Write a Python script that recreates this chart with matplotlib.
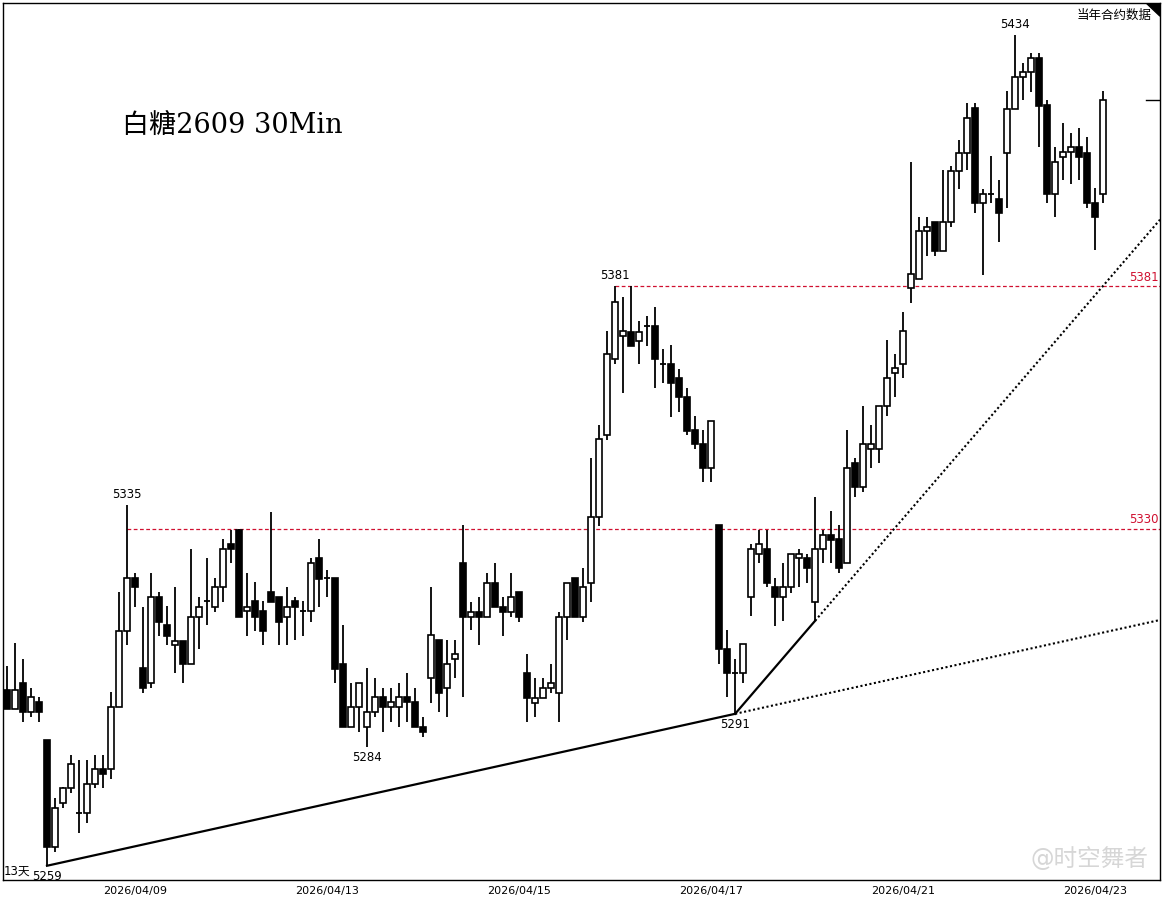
import matplotlib.pyplot as plt
import numpy as np

plt.rcParams['font.family'] = ['DejaVu Sans', 'Noto Sans CJK SC']

# 30-minute bars
opens = [5296, 5292, 5297.5, 5291.4, 5293.5, 5285.5, 5263, 5272.3, 5275.4, 5270.2,
         5270.2, 5276.3, 5279.4, 5279.4, 5292.5, 5308.5, 5319.6, 5300.7, 5297.5, 5315.6,
         5309.7, 5305.5, 5306.4, 5301.5, 5311.4, 5314.8, 5313.5, 5317.7, 5326.8, 5329.7,
         5312.7, 5314.8, 5312.7, 5316.7, 5315.6, 5311.4, 5314.8, 5312.7, 5312.7, 5323.8,
         5319.6, 5319.6, 5301.5, 5288.3, 5292.5, 5288.3, 5291.4, 5294.6, 5292.5, 5292.5,
         5294.6, 5293.5, 5288.3, 5298.6, 5306.6, 5296.5, 5302.6, 5322.8, 5311.4, 5312.5,
         5311.4, 5318.6, 5313.5, 5312.5, 5316.7, 5299.6, 5293.3, 5294.4, 5296.5, 5295.4,
         5311.4, 5319.6, 5311.4, 5318.6, 5332.5, 5349.7, 5365.7, 5370.6, 5371.4, 5369.5,
         5372.7, 5372.7, 5364.7, 5364.7, 5361.7, 5357.7, 5350.8, 5347.8, 5342.8, 5330.8,
         5304.7, 5299.6, 5299.6, 5315.6, 5324.7, 5325.7, 5317.7, 5315.6, 5317.7, 5323.8,
         5323.8, 5314.6, 5325.7, 5328.7, 5327.8, 5322.8, 5343.8, 5338.8, 5346.8, 5346.8,
         5355.8, 5362.8, 5364.7, 5380.7, 5382.6, 5392.7, 5394.6, 5388.5, 5394.6, 5405.3,
         5409.1, 5418.6, 5398.6, 5400.5, 5399.4, 5409.1, 5418.4, 5425.1, 5426.2, 5429.1,
         5419.2, 5400.5, 5408.3, 5409.3, 5410.4, 5409.1, 5398.6, 5400.5]
highs = [5301, 5306, 5302.6, 5296.5, 5294.6, 5285.5, 5273.3, 5275.5, 5282.4, 5281.3,
         5281.3, 5282.4, 5282.4, 5295.6, 5316.7, 5335, 5320.7, 5313.5, 5320.7, 5316.7,
         5313.7, 5317.7, 5306.4, 5325.7, 5315.6, 5323.8, 5319.6, 5327.8, 5329.7, 5330,
         5320.7, 5318.8, 5314.8, 5333.5, 5315.6, 5317.7, 5315.6, 5314.8, 5323.8, 5327.8,
         5321.3, 5319.6, 5309.7, 5297.5, 5297.5, 5300.7, 5298.6, 5296.5, 5296.5, 5297.5,
         5299.6, 5296.5, 5290.4, 5317.7, 5306.6, 5306.6, 5306.6, 5330.8, 5314.6, 5315.6,
         5320.7, 5322.8, 5315.6, 5320.7, 5316.7, 5303.6, 5298.6, 5298.6, 5301.5, 5312.5,
         5318.6, 5319.6, 5321.7, 5344.9, 5351.8, 5371.6, 5381, 5378.8, 5381, 5373.7,
         5374.8, 5376.7, 5367.8, 5368.7, 5363.6, 5359.6, 5353.7, 5350.8, 5352.7, 5330.8,
         5308.7, 5302.6, 5305.7, 5326.8, 5329.7, 5329.7, 5319.6, 5322.8, 5324.7, 5325.7,
         5324.7, 5336.7, 5329.7, 5333.7, 5330.8, 5350.8, 5344.9, 5355.8, 5351.8, 5355.8,
         5369.7, 5366.8, 5375.6, 5407.2, 5395.6, 5395.6, 5394.6, 5405.5, 5406.4, 5411.8,
         5419.6, 5419.6, 5401.5, 5408.5, 5403.4, 5422.2, 5434, 5428.1, 5430.2, 5430.2,
         5420.3, 5410.4, 5415.4, 5413.3, 5414.4, 5412.5, 5401.7, 5422.2]
lows = [5292, 5292, 5289.3, 5290.4, 5289.3, 5259, 5262, 5271.2, 5274.4, 5266,
        5268, 5275.4, 5275.4, 5277.3, 5292.5, 5305.5, 5313.5, 5295.4, 5296.5, 5307.4,
        5305.5, 5299.6, 5297.5, 5301.5, 5304.7, 5309.7, 5312.5, 5314.6, 5322.8, 5311.4,
        5307.4, 5308.5, 5305.5, 5314.6, 5305.5, 5305.5, 5306.6, 5307.4, 5310.4, 5313.5,
        5315.6, 5297.5, 5288.3, 5288.3, 5287.2, 5284, 5290.4, 5287.2, 5289.3, 5288.3,
        5289.3, 5288.3, 5286.2, 5293.3, 5291.4, 5290.4, 5298.6, 5294.6, 5308.7, 5305.5,
        5311.4, 5313.5, 5307.4, 5311.4, 5310.4, 5289.3, 5290.4, 5294.4, 5295.4, 5289.3,
        5306.6, 5311.4, 5310.4, 5314.6, 5330.6, 5348.7, 5364.7, 5358.6, 5368.5, 5364.7,
        5368.5, 5359.6, 5360.7, 5353.5, 5354.6, 5349.7, 5346.8, 5339.8, 5339.8, 5301.5,
        5294.6, 5291, 5297.5, 5311.6, 5322.8, 5317.7, 5309.5, 5310.6, 5316.5, 5317.7,
        5318.6, 5310.6, 5322.8, 5322.8, 5320.7, 5322.8, 5336.7, 5337.7, 5342.8, 5343.8,
        5353.7, 5357.7, 5361.7, 5377.5, 5382.6, 5387.4, 5387.4, 5388.5, 5393.5, 5401.5,
        5405.5, 5396.5, 5383.4, 5398.6, 5390.4, 5397.5, 5418.4, 5420.3, 5421.9, 5410.4,
        5398.6, 5395.6, 5403.4, 5402.6, 5403.4, 5397.5, 5388.7, 5398.6]
closes = [5292, 5296, 5291.4, 5294.6, 5291.4, 5263, 5271.2, 5275.4, 5280.5, 5270.2,
          5276.3, 5279.4, 5278.4, 5292.5, 5308.5, 5319.6, 5317.7, 5296.5, 5315.6, 5310.4,
          5307.4, 5306.4, 5301.5, 5311.4, 5313.5, 5314.8, 5317.7, 5325.7, 5325.7, 5311.4,
          5313.5, 5311.4, 5308.5, 5314.6, 5310.4, 5313.5, 5313.5, 5312.7, 5322.8, 5319.4,
          5319.6, 5300.5, 5288.3, 5292.5, 5297.5, 5291.4, 5294.6, 5292.5, 5293.5, 5294.6,
          5293.5, 5288.3, 5287.2, 5307.6, 5295.4, 5301.5, 5303.6, 5311.4, 5312.5, 5311.4,
          5318.6, 5313.5, 5312.5, 5315.6, 5311.4, 5294.4, 5294.4, 5296.5, 5297.5, 5311.4,
          5318.6, 5311.4, 5317.7, 5332.5, 5348.9, 5366.8, 5377.7, 5371.6, 5368.5, 5371.4,
          5372.7, 5365.7, 5364.7, 5360.7, 5357.7, 5350.6, 5347.8, 5342.8, 5352.7, 5304.7,
          5299.6, 5299.6, 5305.7, 5325.7, 5326.8, 5318.6, 5315.6, 5317.7, 5324.7, 5324.7,
          5321.7, 5325.7, 5328.7, 5327.6, 5321.7, 5342.8, 5338.8, 5347.8, 5347.8, 5355.8,
          5361.7, 5363.8, 5371.6, 5383.6, 5392.7, 5393.5, 5388.5, 5394.6, 5405.3, 5409.1,
          5416.5, 5398.6, 5400.5, 5400.5, 5396.5, 5418.4, 5425.1, 5426.2, 5429.1, 5419,
          5400.5, 5407.2, 5409.3, 5410.4, 5408.3, 5398.6, 5395.6, 5420.3]

date_ticks = [16, 40, 64, 88, 112, 136]
date_labels = ['2026/04/09', '2026/04/13', '2026/04/15', '2026/04/17', '2026/04/21', '2026/04/23']

# marked extremes: (bar index, price, above?)
marks = [(5, 5259, False), (15, 5335, True), (45, 5284, False),
         (76, 5381, True), (91, 5291, False), (126, 5434, True)]
levels = [(15, 5330), (76, 5381)]

o = np.array(opens); h = np.array(highs); l = np.array(lows); c = np.array(closes)
x = np.arange(len(o))

fig = plt.figure(figsize=(11.63, 9.01), dpi=100)
ax = fig.add_axes([3/1163, 21/901, 1157/1163, 877/901])
ax.set_xlim(-0.5, 144.1)
ax.set_ylim(5256, 5440.7)

ax.vlines(x, l, h, color='black', lw=1.3, zorder=2)
up = c >= o
bw = 0.72
body = np.abs(c - o)
bot = np.minimum(o, c)
flat = body < 0.6
ax.bar(x[up & ~flat], body[up & ~flat], bw, bot[up & ~flat], color='white',
       edgecolor='black', lw=1.2, zorder=3)
ax.bar(x[~up & ~flat], body[~up & ~flat], bw, bot[~up & ~flat], color='black',
       edgecolor='black', lw=1.2, zorder=3)
ax.hlines(o[flat], x[flat] - bw/2, x[flat] + bw/2, color='black', lw=1.3, zorder=3)

for i, p, above in marks:
    ax.annotate(str(p), (i, p), xytext=(0, 3 if above else -3), textcoords='offset points',
                ha='center', va='bottom' if above else 'top', fontsize=8.5)

for i, p in levels:
    ax.plot([i, 144.1], [p, p], color='#d01030', lw=0.9, ls=(0, (3, 2)), zorder=1)
    ax.text(143.9, p + 0.6, str(p), color='#d01030', ha='right', va='bottom', fontsize=8.5)

# trend lines through the lows
for a, b in [(5, 91), (91, 101)]:
    ax.plot([a, b], [l[a], l[b]], color='black', lw=1.6, zorder=4)
    slope = (l[b] - l[a]) / (b - a)
    ax.plot([b, 144.1], [l[b], l[b] + slope * (144.1 - b)], color='black', lw=1.5,
            ls=(0, (1, 1.2)), zorder=4)

ax.plot([142.3, 144.1], [c[-1], c[-1]], color='black', lw=1)

ax.text(0.103, 0.852, '白糖2609 30Min', transform=ax.transAxes, fontsize=19.5,
        family=['DejaVu Serif', 'Noto Sans CJK SC'])
ax.text(0.993, 0.993, '当年合约数据', transform=ax.transAxes, ha='right', va='top', fontsize=9)
ax.text(0.001, 0.003, '13天', transform=ax.transAxes, ha='left', va='bottom', fontsize=8.5)
ax.text(0.99, 0.01, '@时空舞者', transform=ax.transAxes, ha='right', va='bottom',
        fontsize=17, color='#cccccc', alpha=0.8)
ax.fill([1, 0.988, 1], [1, 1, 0.985], transform=ax.transAxes, color='black')

ax.set_yticks([])
ax.set_xticks(date_ticks)
ax.set_xticklabels(date_labels, fontsize=8)
ax.tick_params(axis='x', length=0, pad=4)
for s in ax.spines.values():
    s.set_linewidth(1)

fig.savefig('out.png', dpi=100)
